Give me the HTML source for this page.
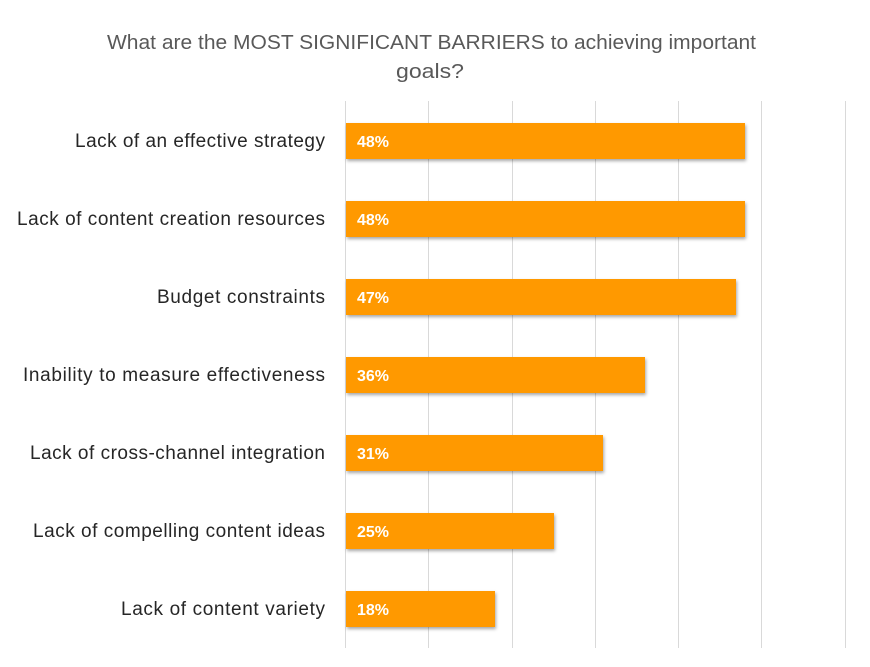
<!DOCTYPE html>
<html><head><style>
body{margin:0;background:#fff;}
svg{display:block;font-family:"Liberation Sans",sans-serif;}
</style></head><body>
<svg width="870" height="667" xmlns="http://www.w3.org/2000/svg">
<defs><filter id="s" x="-5%" y="-20%" width="110%" height="150%"><feDropShadow dx="1" dy="2" stdDeviation="1.5" flood-color="#000" flood-opacity="0.35"/></filter></defs>
<text x="107" y="49" font-size="20" fill="#595959" textLength="649" lengthAdjust="spacingAndGlyphs">What are the MOST SIGNIFICANT  BARRIERS to achieving important</text>
<text x="396" y="78" font-size="20" fill="#595959" textLength="68" lengthAdjust="spacingAndGlyphs">goals?</text>
<g stroke="#d9d9d9" stroke-width="1">
<line x1="345.5" y1="101" x2="345.5" y2="648"/>
<line x1="428.5" y1="101" x2="428.5" y2="648"/>
<line x1="512.5" y1="101" x2="512.5" y2="648"/>
<line x1="595.5" y1="101" x2="595.5" y2="648"/>
<line x1="678.5" y1="101" x2="678.5" y2="648"/>
<line x1="761.5" y1="101" x2="761.5" y2="648"/>
<line x1="845.5" y1="101" x2="845.5" y2="648"/>
</g>
<g fill="#FF9900" filter="url(#s)">
<rect x="346" y="123" width="399" height="36"/>
<rect x="346" y="201" width="399" height="36"/>
<rect x="346" y="279" width="390" height="36"/>
<rect x="346" y="357" width="299" height="36"/>
<rect x="346" y="435" width="257" height="36"/>
<rect x="346" y="513" width="208" height="36"/>
<rect x="346" y="591" width="149" height="36"/>
</g>
<g fill="#fff" font-size="16" font-weight="bold">
<text x="357" y="147">48%</text>
<text x="357" y="225">48%</text>
<text x="357" y="303">47%</text>
<text x="357" y="381">36%</text>
<text x="357" y="459">31%</text>
<text x="357" y="537">25%</text>
<text x="357" y="615">18%</text>
</g>
<g fill="#262626" font-size="19" lengthAdjust="spacingAndGlyphs">
<text x="75" y="147" textLength="250">Lack of an effective strategy</text>
<text x="17" y="225" textLength="308">Lack of content creation resources</text>
<text x="157" y="303" textLength="168">Budget constraints</text>
<text x="23" y="381" textLength="302">Inability to measure effectiveness</text>
<text x="30" y="459" textLength="295">Lack of cross-channel integration</text>
<text x="33" y="537" textLength="292">Lack of compelling content ideas</text>
<text x="121" y="615" textLength="204">Lack of content variety</text>
</g>
</svg>
</body></html>
